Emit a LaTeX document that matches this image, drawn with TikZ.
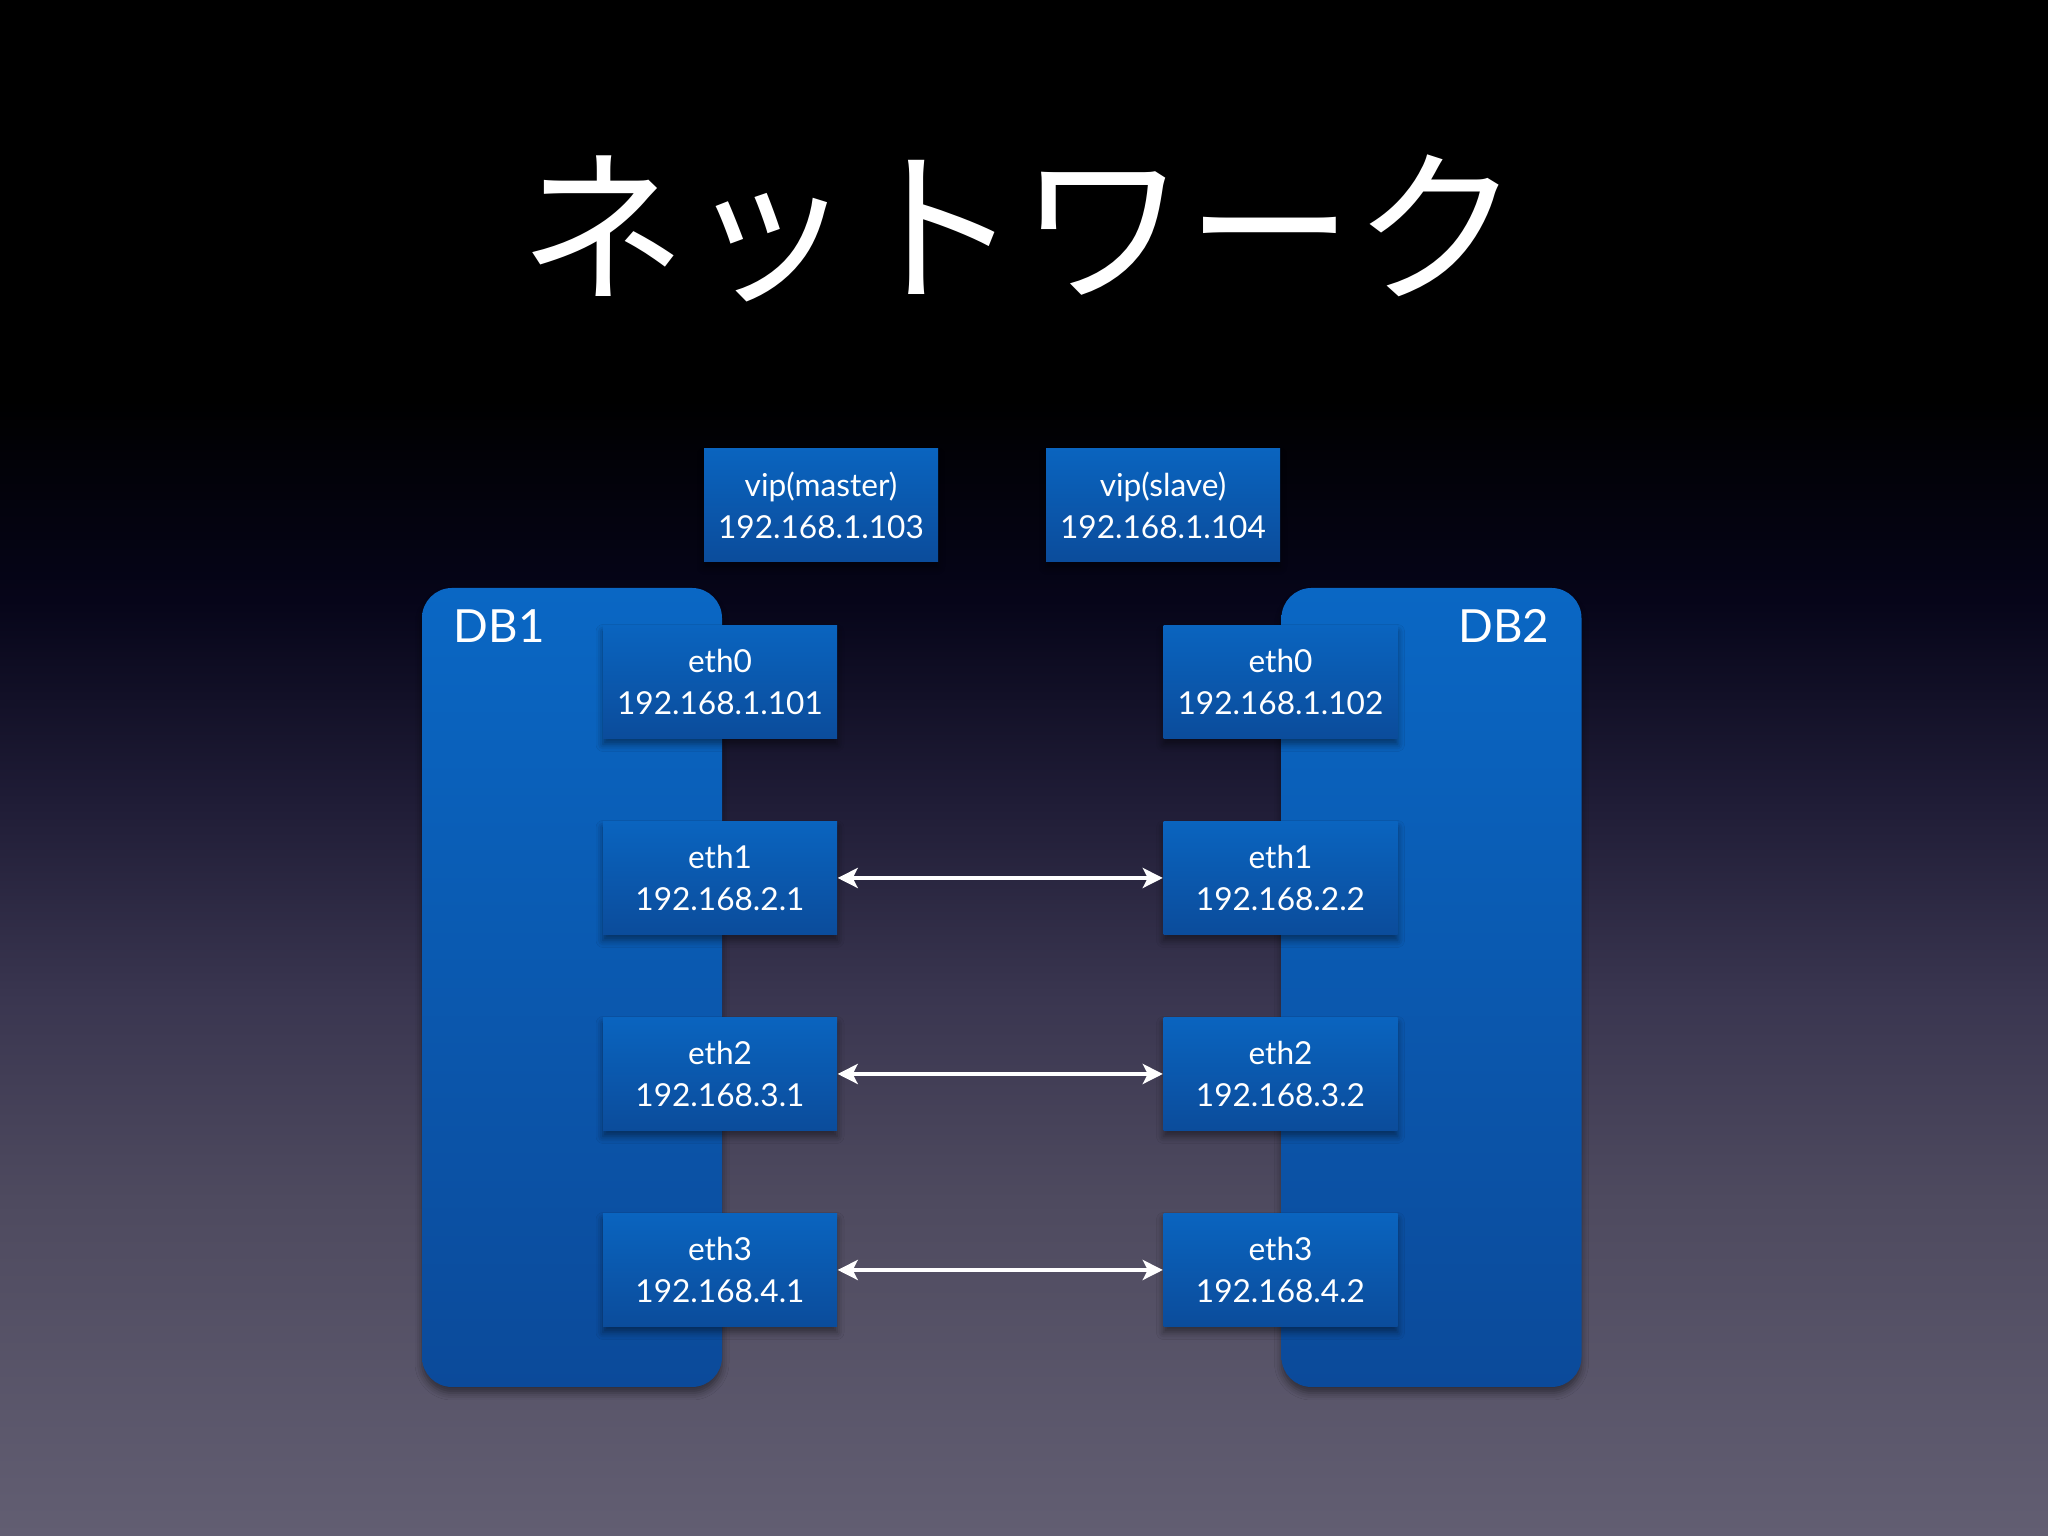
\documentclass[tikz,border=0pt]{standalone}
\usepackage{fontspec}
\setmainfont{Lato}
\newfontfamily\jpfont{Noto Sans CJK JP}
\usetikzlibrary{arrows.meta,shadows.blur}
\definecolor{bgA}{HTML}{625E72}
\definecolor{bgB}{HTML}{4E4A5F}
\definecolor{bgC}{HTML}{3A3650}
\definecolor{bgD}{HTML}{1F1C36}
\definecolor{bgE}{HTML}{060519}
\definecolor{dbtop}{HTML}{0A67C4}
\definecolor{dbbot}{HTML}{0B4A9A}
\definecolor{ethtop}{HTML}{0A64BF}
\definecolor{ethbot}{HTML}{0B4C9B}
\pgfdeclareverticalshading{bgsh}{100bp}{color(0bp)=(bgA); color(25bp)=(bgA); color(39.8bp)=(bgB); color(48.6bp)=(bgC); color(57.4bp)=(bgD); color(66.2bp)=(bgE); color(75bp)=(black); color(100bp)=(black)}
\begin{document}
\begin{tikzpicture}[x=1cm,y=1cm,
  boxshadow/.style={blur shadow={shadow xshift=0pt, shadow yshift=-0.06cm, shadow opacity=45, shadow blur radius=0.07cm}},
  ethbox/.style={boxshadow, minimum width=2.34cm, minimum height=1.13cm, inner sep=0pt,
    top color=ethtop, bottom color=ethbot, text=white, align=center,
    execute at begin node={\rule{0pt}{10.6pt}},
    font=\fontsize{9}{12}\selectfont},
  dbbox/.style={boxshadow, rounded corners=0.3cm, minimum width=3.0cm, minimum height=7.99cm,
    inner sep=0pt, top color=dbtop, bottom color=dbbot},
  dblabel/.style={text=white, inner sep=0pt, font=\fontsize{13}{15}\selectfont},
  link/.style={draw=white, line width=1.3pt,
    {Stealth[length=0.2cm,width=0.2cm,inset=0.05cm]}-{Stealth[length=0.2cm,width=0.2cm,inset=0.05cm]}}
]
\useasboundingbox (0,0) rectangle (20.48,15.36);
\fill[black] (0,11.30) rectangle (20.48,15.36);
\shade[shading=bgsh] (0,0) rectangle (20.48,11.36);

\node[text=white, inner sep=0pt] (title) at (10.20,13.08) {\jpfont\fontsize{47.5}{48}\selectfont ネットワーク};

\node[dbbox] (db1) at (5.72,5.485) {};
\node[dbbox] (db2) at (14.315,5.485) {};
\node[dblabel, anchor=base west] (db1l) at (4.53,8.93) {DB1};
\node[dblabel, anchor=base east] (db2l) at (15.50,8.93) {DB2};

\node[ethbox] (vm) at (8.21,10.31) {vip(master)\\192.168.1.103};
\node[ethbox] (vs) at (11.63,10.31) {vip(slave)\\192.168.1.104};

\node[ethbox] (l0) at (7.20,8.54) {eth0\\192.168.1.101};
\node[ethbox] (l1) at (7.20,6.58) {eth1\\192.168.2.1};
\node[ethbox] (l2) at (7.20,4.62) {eth2\\192.168.3.1};
\node[ethbox] (l3) at (7.20,2.66) {eth3\\192.168.4.1};

\node[ethbox] (r0) at (12.805,8.54) {eth0\\192.168.1.102};
\node[ethbox] (r1) at (12.805,6.58) {eth1\\192.168.2.2};
\node[ethbox] (r2) at (12.805,4.62) {eth2\\192.168.3.2};
\node[ethbox] (r3) at (12.805,2.66) {eth3\\192.168.4.2};

\draw[link] (l1.east) -- (r1.west);
\draw[link] (l2.east) -- (r2.west);
\draw[link] (l3.east) -- (r3.west);
\end{tikzpicture}
\end{document}
